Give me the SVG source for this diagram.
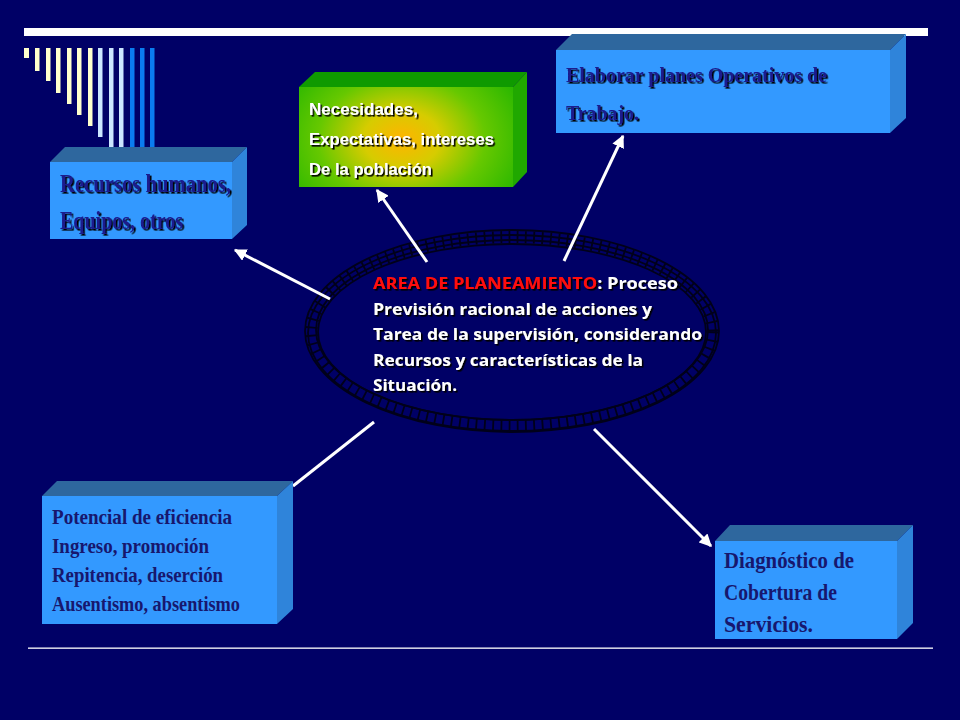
<svg xmlns="http://www.w3.org/2000/svg" width="960" height="720" viewBox="0 0 960 720">
<defs>
  <filter id="sh" x="-5%" y="-20%" width="115%" height="150%">
    <feDropShadow dx="1.6" dy="1.6" stdDeviation="0.3" flood-color="#000" flood-opacity="1"/>
  </filter>
  <radialGradient id="grn" cx="0.48" cy="0.52" r="0.6" gradientTransform="translate(0.48 0.52) scale(1 1.6) translate(-0.48 -0.52)">
    <stop offset="0" stop-color="#FFB400"/>
    <stop offset="0.3" stop-color="#D6CC00"/>
    <stop offset="0.65" stop-color="#66C800"/>
    <stop offset="1" stop-color="#2DB800"/>
  </radialGradient>
  <marker id="arr" viewBox="0 0 10 10" refX="9" refY="5" markerWidth="4.2" markerHeight="4.2" orient="auto" markerUnits="strokeWidth">
    <path d="M0,0 L10,5 L0,10 z" fill="#fff"/>
  </marker>
  <style>
    .front{fill:#3399FF}
    .top{fill:#2E679E}
    .side{fill:#2F84DA}
    .cond{font-family:"Liberation Serif","Times New Roman",serif;font-weight:bold;fill:#1A1A8C;filter:url(#sh)}
    .serif{font-family:"Liberation Serif","Times New Roman",serif;font-weight:bold;fill:#17176E}
    .gtxt{font-family:"Liberation Sans",Arial,sans-serif;font-weight:bold;font-size:17px;fill:#fff;filter:url(#sh)}
    .ctxt{font-family:"Open Sans","Liberation Sans",sans-serif;font-weight:bold;font-size:15.5px;fill:#fff;filter:url(#sh)}
    .red{fill:#FF1010}
    .conn{stroke:#fff;stroke-width:3;fill:none}
    .ring{fill:none;stroke:#00001A;stroke-width:1.8}
  </style>
</defs>

<rect width="960" height="720" fill="#000066"/>

<!-- decorative header -->
<g id="header">
  <rect x="24" y="28" width="904" height="8" fill="#fff"/>
  <rect x="24" y="48" width="5" height="10" fill="#FFFFCC"/>
  <rect x="35" y="48" width="4.5" height="23" fill="#FFFFCC"/>
  <rect x="46" y="48" width="4.5" height="33" fill="#FFFFCC"/>
  <rect x="56" y="48" width="4.5" height="45" fill="#FFFFCC"/>
  <rect x="67" y="48" width="4.5" height="56" fill="#FFFFCC"/>
  <rect x="77" y="48" width="4.5" height="67" fill="#FFFFCC"/>
  <rect x="88" y="48" width="4.5" height="78" fill="#FFFFCC"/>
  <rect x="98" y="48" width="4.5" height="89" fill="#CCE6FF"/>
  <rect x="109" y="48" width="4.5" height="99" fill="#CCE6FF"/>
  <rect x="119" y="48" width="4.5" height="99" fill="#CCE6FF"/>
  <rect x="130" y="48" width="4.5" height="99" fill="#0A7CF0"/>
  <rect x="140" y="48" width="4.5" height="99" fill="#0A7CF0"/>
  <rect x="150" y="48" width="4.5" height="99" fill="#0A7CF0"/>
  <rect x="28" y="647.5" width="905" height="1.3" fill="#fff"/>
</g>

<!-- central ring -->
<g id="center">
  <ellipse class="ring" cx="512" cy="331" rx="207" ry="101"/>
  <ellipse class="ring" cx="512" cy="333" rx="204" ry="98" stroke-width="1.2"/>
  <ellipse cx="512" cy="331.5" rx="200.5" ry="94.5" fill="none" stroke="#00001A" stroke-width="12" stroke-dasharray="1.8 6.5"/>
  <ellipse class="ring" cx="512" cy="332" rx="194" ry="88"/>
  <ellipse class="ring" cx="512" cy="330" rx="196" ry="90" stroke-width="1"/>
  <text class="ctxt" x="373" y="289" textLength="305" lengthAdjust="spacingAndGlyphs"><tspan class="red">AREA DE PLANEAMIENTO</tspan>: Proceso</text>
  <text class="ctxt" x="373" y="315" textLength="279" lengthAdjust="spacingAndGlyphs">Previsión racional de acciones y</text>
  <text class="ctxt" x="373" y="340" textLength="329" lengthAdjust="spacingAndGlyphs">Tarea de la supervisión, considerando</text>
  <text class="ctxt" x="373" y="366" textLength="270" lengthAdjust="spacingAndGlyphs">Recursos y características de la</text>
  <text class="ctxt" x="373" y="391" textLength="84" lengthAdjust="spacingAndGlyphs">Situación.</text>
</g>

<!-- connectors -->
<g id="connectors">
  <line class="conn" x1="330" y1="299" x2="235" y2="250" marker-end="url(#arr)"/>
  <line class="conn" x1="427" y1="262" x2="377" y2="190" marker-end="url(#arr)"/>
  <line class="conn" x1="564" y1="261" x2="623" y2="136" marker-end="url(#arr)"/>
  <line class="conn" x1="374" y1="422" x2="293" y2="486"/>
  <line class="conn" x1="594" y1="429" x2="711" y2="546" marker-end="url(#arr)"/>
</g>

<!-- node: recursos humanos -->
<g id="node-recursos">
  <polygon class="top" points="50,162 65,147 247,147 232,162"/>
  <polygon class="side" points="232,162 247,147 247,225 232,239"/>
  <rect class="front" x="50" y="162" width="182" height="77"/>
  <text class="cond" x="60" y="192" font-size="26" textLength="171" lengthAdjust="spacingAndGlyphs">Recursos humanos,</text>
  <text class="cond" x="60" y="229" font-size="26" textLength="123" lengthAdjust="spacingAndGlyphs">Equipos, otros</text>
</g>

<!-- node: necesidades -->
<g id="node-necesidades">
  <polygon fill="#0F9A00" points="299,87 315,72 527,72 513,87"/>
  <polygon fill="#20A800" points="513,87 527,72 527,172 513,187"/>
  <rect x="299" y="87" width="214" height="100" fill="url(#grn)"/>
  <text class="gtxt" x="309" y="115" textLength="109" lengthAdjust="spacingAndGlyphs">Necesidades,</text>
  <text class="gtxt" x="309" y="145" textLength="185" lengthAdjust="spacingAndGlyphs">Expectativas, intereses</text>
  <text class="gtxt" x="309" y="175" textLength="123" lengthAdjust="spacingAndGlyphs">De la población</text>
</g>

<!-- node: elaborar planes -->
<g id="node-elaborar">
  <polygon class="top" points="556,50 572,34 906,34 890,50"/>
  <polygon class="side" points="890,50 906,34 906,118 890,133"/>
  <rect class="front" x="556" y="50" width="334" height="83"/>
  <text class="cond" x="566" y="82" font-size="22" textLength="261" lengthAdjust="spacingAndGlyphs">Elaborar planes Operativos de</text>
  <text class="cond" x="566" y="120" font-size="22" textLength="73" lengthAdjust="spacingAndGlyphs">Trabajo.</text>
</g>

<!-- node: potencial de eficiencia -->
<g id="node-potencial">
  <polygon class="top" points="42,496 57,481 293,481 277,496"/>
  <polygon class="side" points="277,496 293,481 293,609 277,624"/>
  <rect class="front" x="42" y="496" width="235" height="128"/>
  <text class="serif" x="52" y="524" font-size="21" textLength="180" lengthAdjust="spacingAndGlyphs">Potencial de eficiencia</text>
  <text class="serif" x="52" y="553" font-size="21" textLength="157" lengthAdjust="spacingAndGlyphs">Ingreso, promoción</text>
  <text class="serif" x="52" y="582" font-size="21" textLength="171" lengthAdjust="spacingAndGlyphs">Repitencia, deserción</text>
  <text class="serif" x="52" y="611" font-size="21" textLength="188" lengthAdjust="spacingAndGlyphs">Ausentismo, absentismo</text>
</g>

<!-- node: diagnostico -->
<g id="node-diagnostico">
  <polygon class="top" points="715,541 730,525 913,525 897,541"/>
  <polygon class="side" points="897,541 913,525 913,623 897,639"/>
  <rect class="front" x="715" y="541" width="182" height="98"/>
  <text class="serif" x="724" y="568" font-size="23" textLength="130" lengthAdjust="spacingAndGlyphs">Diagnóstico de</text>
  <text class="serif" x="724" y="600" font-size="23" textLength="113" lengthAdjust="spacingAndGlyphs">Cobertura de</text>
  <text class="serif" x="724" y="632" font-size="23" textLength="89" lengthAdjust="spacingAndGlyphs">Servicios.</text>
</g>
</svg>
